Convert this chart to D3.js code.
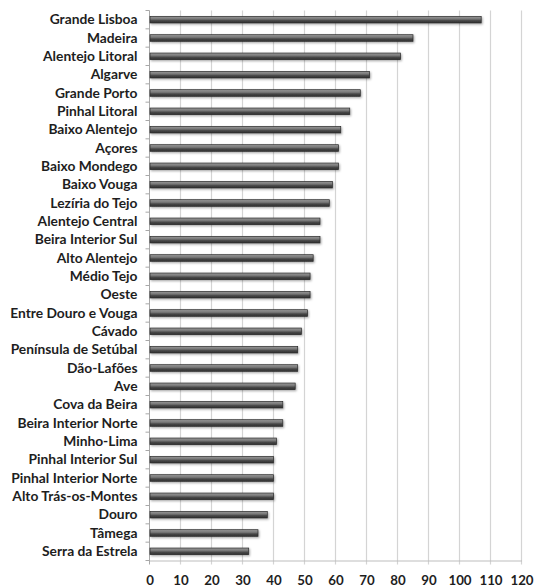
<!DOCTYPE html>
<html>
<head>
<meta charset="utf-8">
<script src="https://cdn.jsdelivr.net/npm/d3@7"></script>
<style>
	body { margin: 0; background: #fff; }
	svg { display: block; }
</style>
</head>
<body>
<svg></svg>
<script>
const regions = [
	'Grande Lisboa', 'Madeira', 'Alentejo Litoral', 'Algarve', 'Grande Porto',
	'Pinhal Litoral', 'Baixo Alentejo', 'Açores', 'Baixo Mondego', 'Baixo Vouga',
	'Lezíria do Tejo', 'Alentejo Central', 'Beira Interior Sul', 'Alto Alentejo', 'Médio Tejo',
	'Oeste', 'Entre Douro e Vouga', 'Cávado', 'Península de Setúbal', 'Dão-Lafões',
	'Ave', 'Cova da Beira', 'Beira Interior Norte', 'Minho-Lima', 'Pinhal Interior Sul',
	'Pinhal Interior Norte', 'Alto Trás-os-Montes', 'Douro', 'Tâmega', 'Serra da Estrela'
];
const values = [
	107, 85, 81, 71, 68,
	64.6, 61.7, 61, 61, 59,
	58, 55, 55, 52.8, 51.8,
	51.8, 51, 49, 47.8, 47.8,
	47, 43, 43, 41, 40,
	40, 40, 38, 35, 32
];
const xTicks = [0, 10, 20, 30, 40, 50, 60, 70, 80, 90, 100, 110, 120];

const width = 536;
const height = 587;
const plotLeft = 149.5;
const plotRight = 521.5;
const plotTop = 10.5;
const plotBottom = 560.5;

const svg = d3.select('svg')
	.attr('width', width)
	.attr('height', height);

const defs = svg.append('defs');
const grad = defs.append('linearGradient')
	.attr('id', 'barGrad')
	.attr('x1', 0).attr('y1', 0)
	.attr('x2', 0).attr('y2', 1);
grad.append('stop').attr('offset', '0%').attr('stop-color', '#9a9a9a');
grad.append('stop').attr('offset', '40%').attr('stop-color', '#777');
grad.append('stop').attr('offset', '65%').attr('stop-color', '#474747');
grad.append('stop').attr('offset', '100%').attr('stop-color', '#303030');

const shadow = defs.append('filter')
	.attr('id', 'shadow')
	.attr('x', '-5%').attr('y', '-50%')
	.attr('width', '110%').attr('height', '250%');
shadow.append('feDropShadow')
	.attr('dx', 1).attr('dy', 1.2)
	.attr('stdDeviation', 0.8)
	.attr('flood-color', '#000')
	.attr('flood-opacity', 0.35);

const x = d3.scaleLinear()
	.domain([0, 120])
	.range([plotLeft, plotRight]);

const y = d3.scaleBand()
	.domain(regions)
	.range([plotTop, plotBottom])
	.paddingInner(0.64)
	.paddingOuter(0.32);

// vertical grid lines
svg.append('g')
	.selectAll('line')
	.data(xTicks.slice(1))
	.enter()
		.append('line')
		.attr('x1', d => x(d))
		.attr('x2', d => x(d))
		.attr('y1', plotTop)
		.attr('y2', plotBottom + 4)
		.attr('stroke', '#d4d4d4')
		.attr('stroke-width', 1.2);

// bottom axis
const xAxis = svg.append('g')
	.attr('transform', 'translate(0,' + plotBottom + ')')
	.call(d3.axisBottom(x).tickValues(xTicks).tickSize(0).tickPadding(15));
xAxis.select('.domain')
	.attr('stroke', '#bdbdbd');
xAxis.selectAll('text')
	.attr('font-family', 'Lato, sans-serif')
	.attr('font-weight', 'bold')
	.attr('font-size', 13.3)
	.attr('fill', '#1e1e1e');

// left axis with category ticks between bars
svg.append('line')
	.attr('x1', plotLeft).attr('x2', plotLeft)
	.attr('y1', plotTop).attr('y2', plotBottom + 4)
	.attr('stroke', '#a8a8a8');

const step = y.step();
svg.append('g')
	.selectAll('line')
	.data(d3.range(regions.length + 1))
	.enter()
		.append('line')
		.attr('x1', plotLeft - 4)
		.attr('x2', plotLeft)
		.attr('y1', d => plotTop + d * step)
		.attr('y2', d => plotTop + d * step)
		.attr('stroke', '#a8a8a8');

// bars
svg.append('g')
	.selectAll('rect')
	.data(regions)
	.enter()
		.append('rect')
		.attr('x', plotLeft + 0.5)
		.attr('y', d => y(d))
		.attr('width', (d, i) => x(values[i]) - plotLeft - 0.5)
		.attr('height', y.bandwidth())
		.attr('fill', 'url(#barGrad)')
		.attr('stroke', '#2a2a2a')
		.attr('stroke-width', 0.7)
		.attr('filter', 'url(#shadow)');

// category labels
svg.append('g')
	.selectAll('text')
	.data(regions)
	.enter()
		.append('text')
		.text(d => d)
		.attr('x', 137.5)
		.attr('y', d => y(d) + y.bandwidth() / 2)
		.attr('dy', '0.35em')
		.attr('text-anchor', 'end')
		.attr('font-family', 'Lato, sans-serif')
		.attr('font-weight', 'bold')
		.attr('font-size', 13.8)
		.attr('fill', '#1e1e1e');
</script>
</body>
</html>
